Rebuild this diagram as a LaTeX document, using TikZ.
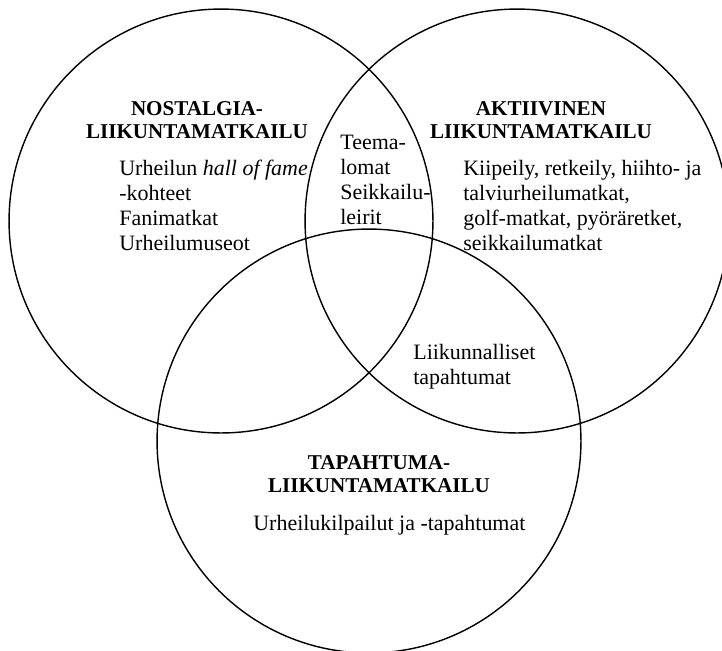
\documentclass[tikz,border=0pt]{standalone}
\usepackage{fontspec}
\setmainfont{Liberation Serif}
\usepackage{tikz}
\usetikzlibrary{positioning}

\begin{document}
\begin{tikzpicture}[
  x=0.02cm, y=-0.02cm,
  setcircle/.style={
    circle, draw=black, line width=0.8pt,
    minimum size=8.48cm, inner sep=0pt
  },
  heading/.style={
    align=center, inner sep=0pt, anchor=north,
    font=\fontsize{12}{13.1}\selectfont\bfseries
  },
  body/.style={
    align=left, inner sep=0pt, anchor=north west,
    font=\fontsize{12.5}{14.2}\selectfont
  },
]
\useasboundingbox (0,0) rectangle (722,650);

% ── Circles ──
\node[setcircle] (nostalgia) at (221,221) {};
\node[setcircle] (aktiivi) at (517,221) {};
\node[setcircle] (tapahtuma) at (369,441) {};

% ── Headings ──
\node[heading] (nostitle) at (197,101)
  {NOSTALGIA-\\LIIKUNTAMATKAILU};
\node[heading] (aktititle) at (541,101)
  {AKTIIVINEN\\LIIKUNTAMATKAILU};
\node[heading] (taptitle) at (379,455)
  {TAPAHTUMA-\\LIIKUNTAMATKAILU};

% ── Contents ──
\node[body] (nostext) at (119,160)
  {Urheilun \textit{hall of fame}\\-kohteet\\Fanimatkat\\Urheilumuseot};
\node[body] (teema) at (340,135)
  {Teema-\\lomat\\Seikkailu-\\leirit};
\node[body] (aktitext) at (463,160)
  {Kiipeily, retkeily, hiihto- ja\\talviurheilumatkat,\\golf-matkat, pyöräretket,\\seikkailumatkat};
\node[body] (liikunnalliset) at (413,344)
  {Liikunnalliset\\tapahtumat};
\node[body] (taptext) at (253,515)
  {Urheilukilpailut ja -tapahtumat};
\end{tikzpicture}
\end{document}
